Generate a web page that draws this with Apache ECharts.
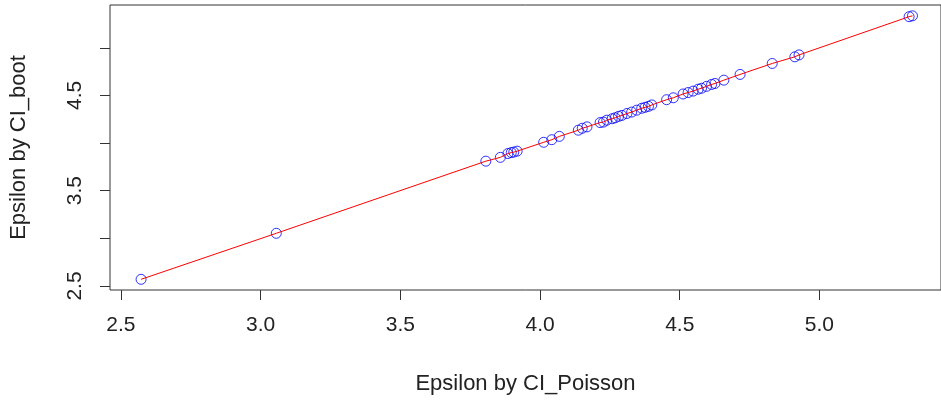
<!DOCTYPE html>
<html>
<head>
<meta charset="utf-8">
<script src="https://cdn.jsdelivr.net/npm/echarts@6/dist/echarts.min.js"></script>
<style>html,body{margin:0;padding:0;background:#fff}#c{width:941px;height:403px}</style>
</head>
<body>
<div id="c"></div>
<script>
// Epsilon by CI_Poisson (x) and Epsilon by CI_boot (y)
var epsPoisson = [2.572, 3.056, 3.806, 3.858, 3.885, 3.897, 3.906, 3.918, 4.013, 4.042,
  4.069, 4.137, 4.151, 4.168, 4.215, 4.227, 4.239, 4.258, 4.269, 4.281,
  4.293, 4.311, 4.328, 4.346, 4.364, 4.376, 4.388, 4.400, 4.453, 4.477,
  4.512, 4.530, 4.548, 4.566, 4.578, 4.596, 4.614, 4.626, 4.658, 4.716,
  4.831, 4.912, 4.927, 5.321, 5.333];
var epsBoot = [2.570, 3.053, 3.810, 3.850, 3.890, 3.900, 3.905, 3.915, 4.008, 4.035,
  4.070, 4.135, 4.155, 4.170, 4.215, 4.220, 4.240, 4.255, 4.265, 4.280,
  4.290, 4.310, 4.325, 4.345, 4.365, 4.375, 4.385, 4.400, 4.455, 4.475,
  4.515, 4.530, 4.545, 4.565, 4.575, 4.595, 4.615, 4.625, 4.660, 4.720,
  4.835, 4.905, 4.925, 5.326, 5.335];
var xTicks = [2.5, 3.0, 3.5, 4.0, 4.5, 5.0];
var yTicks = [2.5, 3.0, 3.5, 4.0, 4.5, 5.0];
var yTickLabels = [2.5, 3.5, 4.5];
var xTitle = 'Epsilon by CI_Poisson';
var yTitle = 'Epsilon by CI_boot';

var pts = epsPoisson.map(function (x, i) { return [x, epsBoot[i]]; });
var FONT = 'Liberation Sans, Arial, sans-serif';
var chart = echarts.init(document.getElementById('c'), null, {renderer: 'canvas'});
chart.setOption({
  animation: false,
  backgroundColor: '#ffffff',
  grid: {left: 108, top: 5, width: 834, height: 285, show: true,
    borderColor: '#333333', borderWidth: 1, backgroundColor: 'transparent'},
  xAxis: {
    type: 'value', min: 2.4608, max: 5.4351,
    name: xTitle, nameLocation: 'middle', nameGap: 83,
    nameTextStyle: {fontFamily: FONT, fontSize: 22, color: '#222'},
    axisLine: {show: false},
    splitLine: {show: false},
    axisTick: {show: true, inside: false, length: 10, customValues: xTicks,
      lineStyle: {color: '#333333', width: 1}},
    axisLabel: {customValues: xTicks, margin: 25, fontFamily: FONT, fontSize: 21, color: '#222',
      formatter: function (v) { return v.toFixed(1); }}
  },
  yAxis: {
    type: 'value', min: 2.458, max: 5.4486,
    name: yTitle, nameLocation: 'middle', nameGap: 80, nameRotate: 90,
    nameTextStyle: {fontFamily: FONT, fontSize: 22, color: '#222'},
    axisLine: {show: false},
    splitLine: {show: false},
    axisTick: {show: true, inside: false, length: 10, customValues: yTicks,
      lineStyle: {color: '#333333', width: 1}},
    axisLabel: {customValues: yTickLabels, rotate: 90, margin: 24, fontFamily: FONT, fontSize: 21, color: '#222',
      formatter: function (v) { return v.toFixed(1); }}
  },
  series: [
    {type: 'scatter', data: pts, symbol: 'circle', symbolSize: 10,
      itemStyle: {color: 'rgba(0,0,0,0)', borderColor: '#0000ff', borderWidth: 1}, z: 2},
    {type: 'line', data: pts, showSymbol: false, symbol: 'none',
      lineStyle: {color: '#ff0000', width: 1}, z: 3}
  ]
});
</script>
</body>
</html>
